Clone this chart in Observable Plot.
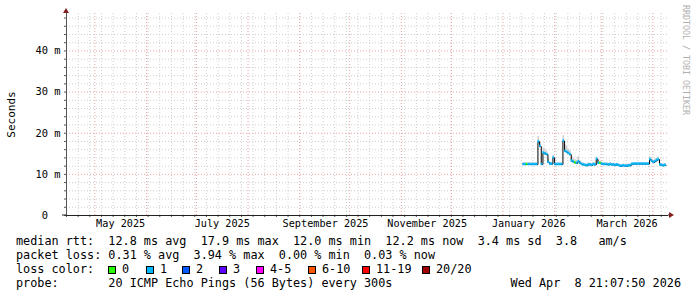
<!DOCTYPE html>
<html><head><meta charset="utf-8">
<script src="https://cdn.jsdelivr.net/npm/d3@7"></script>
<script src="https://cdn.jsdelivr.net/npm/@observablehq/plot@0.6"></script>
<style>
html,body{margin:0;padding:0;background:#fff;}
body{width:697px;height:297px;overflow:hidden;position:relative;font-family:"DejaVu Sans Mono",monospace;}
#chart{position:absolute;left:0;top:0;}
.leg{position:absolute;left:16px;font-size:11.8px;line-height:14px;white-space:pre;color:#000;}
.box{position:absolute;width:6px;height:6px;border:1px solid #000;}
.lbl{position:absolute;font-size:11.8px;line-height:14px;white-space:pre;color:#000;}
#credit{position:absolute;left:681px;top:5px;writing-mode:vertical-rl;font-size:8.3px;color:#b0b0b0;white-space:pre;}
</style>
</head><body>
<div id="chart"></div>
<div id="credit">RRDTOOL / TOBI OETIKER</div>
<script>
// ---- data ----
const firstSample = "2026-01-12T12:00Z";
const lastSample  = "2026-04-08T12:00Z";
const nowStamp    = "2026-04-08T21:07:50Z";
const nowText     = "Wed Apr  8 21:07:50 2026";

const medianMs = [
  12.4,12.4,12.4,12.4,12.4,12.4,12.4,12.4,12.4,
  17.9,16.8,12.4,
  15.2,15.0,14.8,
  12.9,12.5,12.5,
  14.0,12.4,
  12.4,12.4,12.4,12.4,
  18.1,15.6,15.4,15.1,14.8,
  13.2,13.0,12.8,12.7,13.1,12.7,
  12.4,12.3,12.2,12.1,12.3,12.3,12.2,12.4,12.3,
  13.7,12.7,12.7,12.5,
  12.4,12.4,12.4,12.3,12.4,12.3,12.3,12.2,12.3,12.2,
  12.0,12.0,12.1,12.0,12.0,12.1,12.1,
  12.4,12.5,12.5,12.5,12.5,12.5,12.5,12.5,12.5,12.5,12.5,
  13.6,13.2,12.9,
  13.1,13.4,13.6,12.3,12.2,12.1,12.2,12.2
];
const smokeTopMs = [
  12.8,12.8,12.8,12.8,12.8,12.8,12.8,12.8,12.8,
  19.2,18.0,12.8,
  16.4,16.0,15.6,
  13.6,13.0,12.9,
  14.6,12.8,
  12.8,12.8,12.8,12.8,
  19.4,17.0,16.8,16.2,15.8,
  14.2,14.0,13.6,13.4,14.3,13.3,
  12.9,12.8,12.6,12.5,12.8,12.8,12.6,12.9,12.8,
  14.0,13.4,13.2,13.0,
  12.8,12.8,12.8,12.7,12.8,12.7,12.7,12.6,12.7,12.6,
  12.4,12.4,12.5,12.4,12.4,12.5,12.5,
  12.8,12.8,12.8,12.8,12.8,12.8,12.8,12.8,12.8,12.8,12.8,
  14.3,13.8,13.4,
  13.7,14.0,14.2,12.8,12.6,12.5,12.6,12.6
];
const lossIdx = [
  1,1,0,1,1,1,1,1,1,
  1,1,1,
  1,1,1,
  1,1,1,
  1,1,
  1,1,1,1,
  1,1,1,1,1,
  1,1,0,1,1,1,
  1,1,1,1,1,1,1,1,1,
  1,1,0,1,
  1,1,1,1,1,1,1,1,1,1,
  1,1,1,1,1,1,1,
  1,1,1,1,1,1,1,1,1,1,1,
  1,1,1,
  1,1,1,1,1,1,1,1
];
const lossLabels = ["0","1","2","3","4-5","6-10","11-19","20/20"];
const lossColors = ["#26ff00","#00b8ff","#0059ff","#5e00ff","#ff00ff","#ff5500","#ff0000","#a00000"];

const yTicks = [0,10,20,30,40];
const xLabelDates = ["2025-05-16T12:00Z","2025-07-16T12:00Z","2025-09-16T12:00Z","2025-11-16T12:00Z","2026-01-16T12:00Z","2026-03-16T12:00Z"];
const xLabels = ["May 2025","July 2025","September 2025","November 2025","January 2026","March 2026"];
const xDomain = ["2025-04-14T00:00Z","2026-04-10T09:00Z"];
const yDomain = [0, 49.1];

const legendLines = [
  "median rtt:  12.8 ms avg  17.9 ms max  12.0 ms min  12.2 ms now  3.4 ms sd  3.8   am/s",
  "packet loss: 0.31 % avg  3.94 % max  0.00 % min  0.03 % now",
  "loss color:",
  "probe:       20 ICMP Echo Pings (56 Bytes) every 300s"
];

// ---- build ----
const dates = d3.utcDay.range(new Date(firstSample), d3.utcDay.offset(new Date(lastSample), 1));
const now = new Date(nowStamp);
const rows = dates.map((d, i) => ({
  x1: d,
  x2: i < dates.length - 1 ? dates[i + 1] : now,
  med: medianMs[i],
  top: smokeTopMs[i],
  loss: lossIdx[i]
}));
const linePts = rows.map(r => ({x: r.x1, y: r.med})).concat([{x: now, y: rows[rows.length - 1].med}]);

const xd = xDomain.map(s => new Date(s));
const weeks = d3.utcMonday.range(xd[0], xd[1]);
const months = d3.utcMonth.range(xd[0], xd[1]);
const minorY = d3.range(2, yDomain[1], 2).filter(v => v % 10 !== 0);
const majorY = yTicks.filter(v => v > 0);

const gridGrey = "#cfcfcf", gridRed = "#eba3a3";

const chart = Plot.plot({
  width: 697, height: 232,
  marginLeft: 66, marginRight: 29, marginTop: 13, marginBottom: 17,
  style: {fontFamily: "'DejaVu Sans Mono', monospace", fontSize: "10.2px", background: "transparent", color: "#000", overflow: "visible"},
  x: {type: "utc", domain: xd},
  y: {domain: yDomain},
  marks: [
    Plot.ruleX(weeks, {stroke: gridGrey, strokeDasharray: "1,2"}),
    Plot.ruleY(minorY, {stroke: gridGrey, strokeDasharray: "1,2"}),
    Plot.ruleX(months, {stroke: gridRed, strokeDasharray: "1,2"}),
    Plot.ruleY(majorY, {stroke: gridRed, strokeDasharray: "1,2"}),
    Plot.rect(rows, {x1: "x1", x2: "x2", y1: "med", y2: "top", fill: "#d2d2d2"}),
    Plot.line(linePts, {x: "x", y: "y", stroke: "#000", strokeWidth: 1, curve: "step-after"}),
    Plot.rect(rows, {x1: "x1", x2: "x2", y1: d => d.med - 0.3, y2: d => d.med + 0.3, fill: d => lossColors[d.loss]}),
    Plot.axisY({ticks: d3.range(0, yDomain[1], 2), tickSize: 2, tickFormat: () => "", stroke: "#555"}),
    Plot.axisY({ticks: yTicks, tickSize: 0, tickPadding: 6, fontSize: 10.4,
      tickFormat: d => d === 0 ? "0\u00a0\u00a0" : d + " m"}),
    Plot.axisX({ticks: weeks, tickSize: 2, tickFormat: () => "", stroke: "#555"}),
    Plot.axisX({ticks: xLabelDates.map(s => new Date(s)), tickSize: 0, tickPadding: 4,
      tickFormat: (d, i) => xLabels[i]}),
    Plot.ruleY([0], {stroke: "#222"}),
    Plot.ruleX([xd[0]], {stroke: "#555"}),
    Plot.text(["Seconds"], {text: d => d, frameAnchor: "left", textAnchor: "middle", rotate: -90, dx: -55, fontSize: 11})
  ]
});
document.getElementById("chart").appendChild(chart);

// arrows at axis ends
const svg = d3.select(chart);
const xr = chart.scale("x").range, yr = chart.scale("y").range;
svg.append("line").attr("x1", xr[1]).attr("x2", xr[1] + 2).attr("y1", yr[0]).attr("y2", yr[0]).attr("stroke", "#222");
svg.append("line").attr("x1", xr[0] - 4).attr("x2", xr[0]).attr("y1", yr[0]).attr("y2", yr[0]).attr("stroke", "#222");
svg.append("path").attr("d", `M${xr[1] + 1},${yr[0] - 3}L${xr[1] + 6},${yr[0]}L${xr[1] + 1},${yr[0] + 3}Z`).attr("fill", "#7f1f1f");
svg.append("path").attr("d", `M${xr[0] - 3},${yr[1]}L${xr[0]},${yr[1] - 5}L${xr[0] + 3},${yr[1]}Z`).attr("fill", "#7f1f1f");

// legend below the svg
const lineTops = [234, 248, 262, 276];
legendLines.forEach((t, i) => {
  const el = document.createElement("div");
  el.className = "leg";
  el.style.top = lineTops[i] + "px";
  el.textContent = t;
  document.body.appendChild(el);
});
const boxX = [108, 146, 182, 219, 256, 308, 362, 422];
lossLabels.forEach((lab, i) => {
  const b = document.createElement("div");
  b.className = "box";
  b.style.left = boxX[i] + "px";
  b.style.top = "266px";
  b.style.background = lossColors[i];
  document.body.appendChild(b);
  const l = document.createElement("div");
  l.className = "lbl";
  l.style.left = (boxX[i] + 14) + "px";
  l.style.top = "262px";
  l.textContent = lab;
  document.body.appendChild(l);
});
const nowEl = document.createElement("div");
nowEl.className = "leg";
nowEl.style.left = "auto";
nowEl.style.right = "16px";
nowEl.style.top = "276px";
nowEl.textContent = nowText;
document.body.appendChild(nowEl);
</script>
</body></html>
